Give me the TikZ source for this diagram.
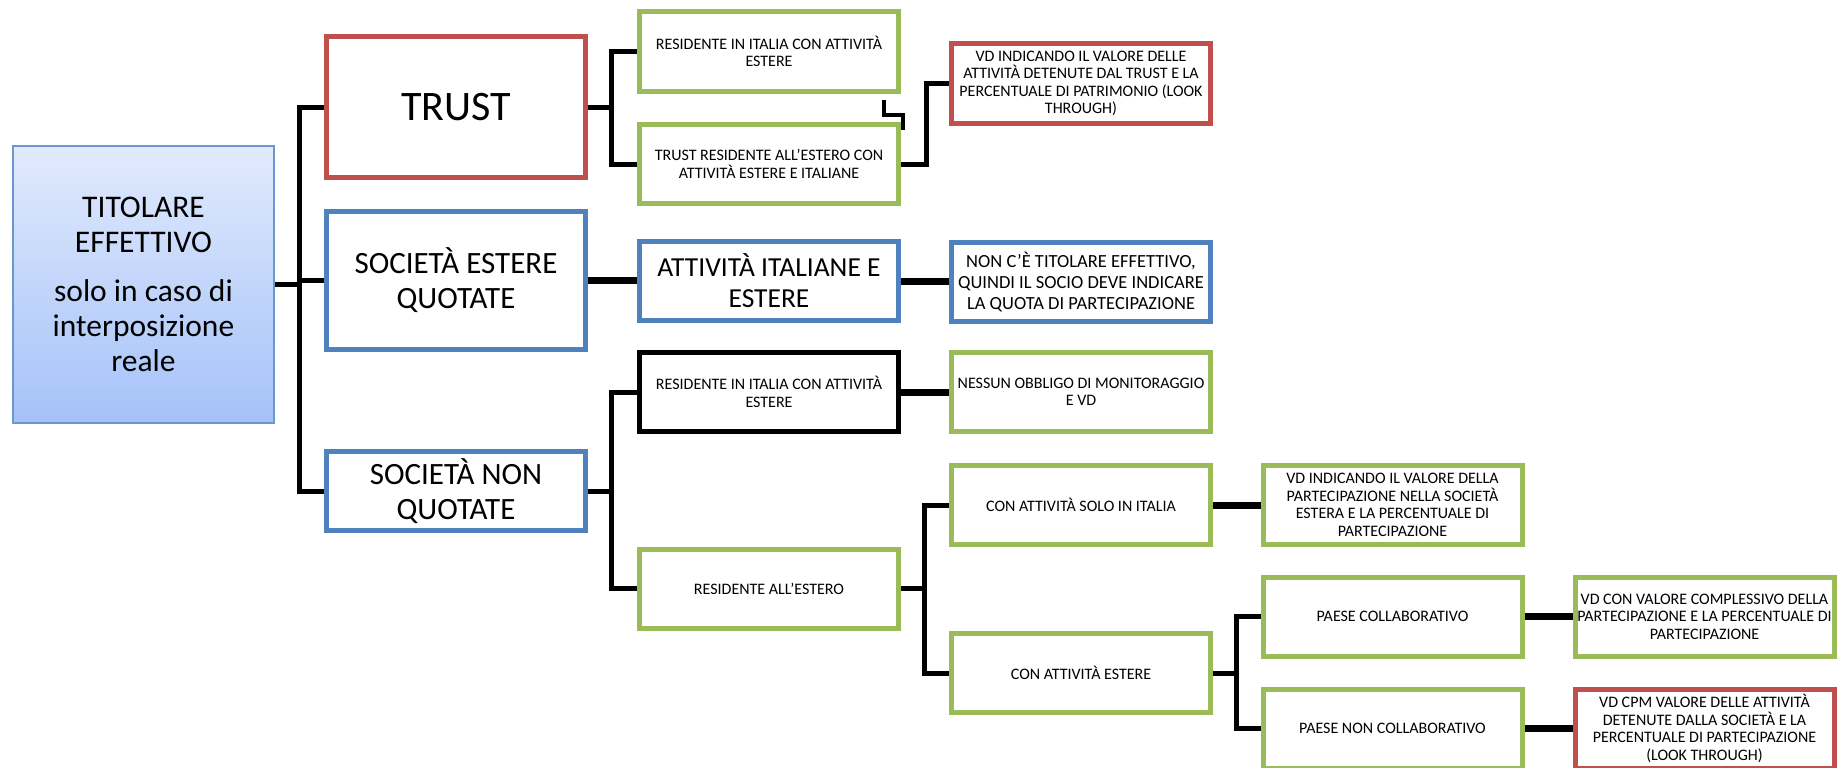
\documentclass[tikz,border=0pt]{standalone}
\usepackage{fontspec}
\setmainfont{Carlito}

\definecolor{boxred}{HTML}{C0504D}
\definecolor{boxgreen}{HTML}{9BBB59}
\definecolor{boxblue}{HTML}{4F81BD}
\definecolor{roottop}{HTML}{E1EAFD}
\definecolor{rootbot}{HTML}{A4C2F8}
\definecolor{rootline}{HTML}{6C96CE}

\tikzset{
  box/.style={draw, line width=5pt, fill=white, inner sep=0pt, align=center,
              minimum width=259pt, minimum height=79pt},
  rootbox/.style={draw=rootline, line width=2pt, top color=roottop, bottom color=rootbot,
              inner sep=0pt, align=center, minimum width=261pt, minimum height=277pt},
  wire/.style={line width=5pt},
  bar/.style={line width=7pt},
  small/.style={font=\fontsize{16}{17.5}\selectfont},
}

\begin{document}
\begin{tikzpicture}[x=1pt, y=-1pt]

  %% ════ 根节点 ════
  \node[rootbox, font=\fontsize{31.5}{35}\selectfont] (titolare) at (143.5,284.5)
    {TITOLARE\\EFFETTIVO\\[14pt]solo in caso di\\interposizione\\reale};   % box(12,145,263,279)

  %% ════ 第一列 ════
  \node[box, draw=boxred, minimum height=141pt, font=\fontsize{42}{48}\selectfont] (trust) at (456,107) {TRUST};
  \node[box, draw=boxblue, minimum height=138pt, font=\fontsize{31}{35}\selectfont] (estquot) at (456,280.5) {SOCIETÀ ESTERE\\QUOTATE};
  \node[box, draw=boxblue, font=\fontsize{31}{35}\selectfont] (nonquot) at (456,491) {SOCIETÀ NON\\QUOTATE};

  %% ════ 第二列 ════
  \node[box, draw=boxgreen, small] (resit1) at (769,51.5) {RESIDENTE IN ITALIA CON ATTIVITÀ\\ESTERE};
  \node[box, draw=boxgreen, small] (trustest) at (769,164) {TRUST RESIDENTE ALL’ESTERO CON\\ATTIVITÀ ESTERE E ITALIANE};
  \node[box, draw=boxblue, font=\fontsize{27.5}{31}\selectfont] (attiv) at (769,281) {ATTIVITÀ ITALIANE E\\ESTERE};
  \node[box, draw=black, small] (resit2) at (769,392) {RESIDENTE IN ITALIA CON ATTIVITÀ\\ESTERE};
  \node[box, draw=boxgreen, small] (resest) at (769,588.5) {RESIDENTE ALL’ESTERO};

  %% ════ 第三列 ════
  \node[box, draw=boxred, small] (vdtrust) at (1081,83.5)
    {VD INDICANDO IL VALORE DELLE\\ATTIVITÀ DETENUTE  DAL TRUST E LA\\PERCENTUALE DI PATRIMONIO (LOOK\\THROUGH)};
  \node[box, draw=boxblue, font=\fontsize{18.5}{21}\selectfont] (nontit) at (1081,281.5)
    {NON C’È TITOLARE EFFETTIVO,\\QUINDI IL SOCIO DEVE INDICARE\\LA QUOTA DI PARTECIPAZIONE};
  \node[box, draw=boxgreen, small] (nessun) at (1081,392) {NESSUN OBBLIGO DI MONITORAGGIO\\E VD};
  \node[box, draw=boxgreen, small] (solo) at (1081,505) {CON ATTIVITÀ SOLO IN ITALIA};
  \node[box, draw=boxgreen, small] (conest) at (1081,673) {CON ATTIVITÀ ESTERE};

  %% ════ 第四列 ════
  \node[box, draw=boxgreen, small] (vdpart) at (1392.5,505)
    {VD INDICANDO IL VALORE DELLA\\PARTECIPAZIONE NELLA SOCIETÀ\\ESTERA E LA PERCENTUALE DI\\PARTECIPAZIONE};
  \node[box, draw=boxgreen, small] (collab) at (1392.5,616.5) {PAESE COLLABORATIVO};
  \node[box, draw=boxgreen, small] (noncollab) at (1392.5,728.5) {PAESE NON COLLABORATIVO};

  %% ════ 第五列 ════
  \node[box, draw=boxgreen, small] (vdcompl) at (1704.5,616.5)
    {VD  CON VALORE COMPLESSIVO DELLA\\PARTECIPAZIONE E LA PERCENTUALE DI\\PARTECIPAZIONE};
  \node[box, draw=boxred, small] (vdcpm) at (1704.5,728.5)
    {VD CPM VALORE DELLE ATTIVITÀ\\DETENUTE DALLA SOCIETÀ E LA\\PERCENTUALE DI PARTECIPAZIONE\\(LOOK THROUGH)};

  %% ════ 连线：折线 ════
  \draw[wire] (titolare.east) -- ++(24.5,0) |- (trust.west);
  \draw[wire] (titolare.east) -- ++(24.5,0) |- (estquot.west);
  \draw[wire] (titolare.east) -- ++(24.5,0) |- (nonquot.west);
  \draw[wire] (trust.east) -- ++(23,0) |- (resit1.west);
  \draw[wire] (trust.east) -- ++(23,0) |- (trustest.west);
  \draw[wire] (nonquot.east) -- ++(23,0) |- (resit2.west);
  \draw[wire] (nonquot.east) -- ++(23,0) |- (resest.west);
  \draw[wire] (trustest.east) -- ++(25.5,0) |- (vdtrust.west);
  \draw[wire] (resest.east) -- ++(23,0) |- (solo.west);
  \draw[wire] (resest.east) -- ++(23,0) |- (conest.west);
  \draw[wire] (conest.east) -- ++(23,0) |- (collab.west);
  \draw[wire] (conest.east) -- ++(23,0) |- (noncollab.west);

  %% ════ 连线：直线 ════
  \draw[bar] (estquot.east) -- (estquot.east -| attiv.west);
  \draw[bar] (attiv.east) -- (attiv.east -| nontit.west);
  \draw[bar] (resit2.east) -- (resit2.east -| nessun.west);
  \draw[bar] (solo.east) -- (solo.east -| vdpart.west);
  \draw[bar] (collab.east) -- (collab.east -| vdcompl.west);
  \draw[bar] (noncollab.east) -- (noncollab.east -| vdcpm.west);

  % 多出来的小折钩（原图里就有）
  \coordinate (hooka) at (884,100);
  \coordinate (hookb) at (903,130);
  \draw[line width=4pt] (hooka) -- ++(0,15) -| (hookb);

  \pgfresetboundingbox
  \path[use as bounding box] (0,0) rectangle (1842,768);
\end{tikzpicture}
\end{document}
